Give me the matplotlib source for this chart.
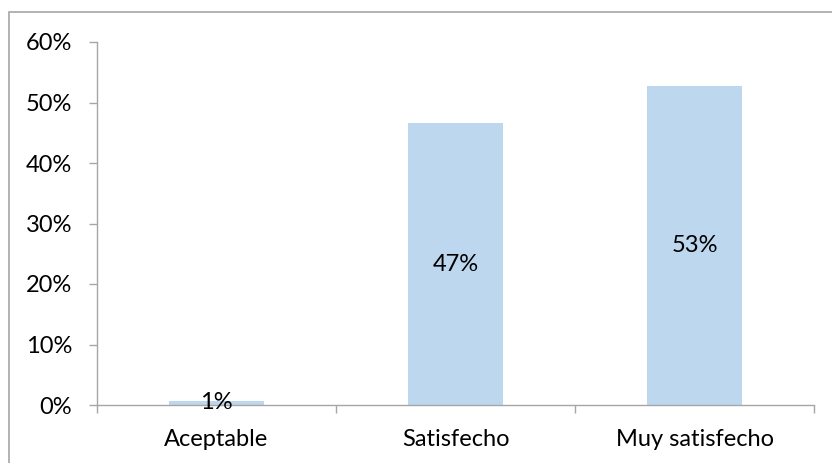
import matplotlib
matplotlib.use("Agg")
import matplotlib.pyplot as plt
from matplotlib.patches import Rectangle
from matplotlib.ticker import FuncFormatter, MultipleLocator

categories = ["Aceptable", "Satisfecho", "Muy satisfecho"]
values = [0.007, 0.466, 0.527]
labels = ["1%", "47%", "53%"]

plt.rcParams['font.family'] = ['Lato', 'DejaVu Sans']

W, H = 832, 463
FS = 17
fig = plt.figure(figsize=(W/100, H/100), dpi=100)
ax = fig.add_axes([97/W, 1-405/H, (814-97)/W, (405-42)/H])

x = range(len(categories))
ax.bar(x, values, width=0.4, color="#BDD7EE", zorder=2)
for xi, v, lab in zip(x, values, labels):
    ax.text(xi, v/2, lab, ha="center", va="center", fontsize=FS, color="#000000", zorder=3)

ax.set_xlim(-0.5, len(categories)-0.5)
ax.set_ylim(0, 0.6)
ax.yaxis.set_major_locator(MultipleLocator(0.1))
ax.yaxis.set_major_formatter(FuncFormatter(lambda v, p: f"{v*100:.0f}%"))
ax.set_xticks(x)
ax.set_xticklabels(categories)
ax.set_xticks([-0.5, 0.5, 1.5, 2.5], minor=True)
ax.tick_params(axis="x", which="major", length=0, pad=17, labelsize=FS)
ax.tick_params(axis="x", which="minor", length=6, color="#A6A6A6", width=1)
ax.tick_params(axis="y", length=6, color="#A6A6A6", width=1, labelsize=FS, pad=12)
for s in ["top", "right"]:
    ax.spines[s].set_visible(False)
for s in ["left", "bottom"]:
    ax.spines[s].set_color("#A6A6A6")
    ax.spines[s].set_linewidth(1)

fig.patches.append(Rectangle((9/W, -0.1), 1.2, 1 - 12/H + 0.1, transform=fig.transFigure,
                             fill=False, edgecolor="#A6A6A6", linewidth=1.2))

fig.savefig("out.png", dpi=100)
